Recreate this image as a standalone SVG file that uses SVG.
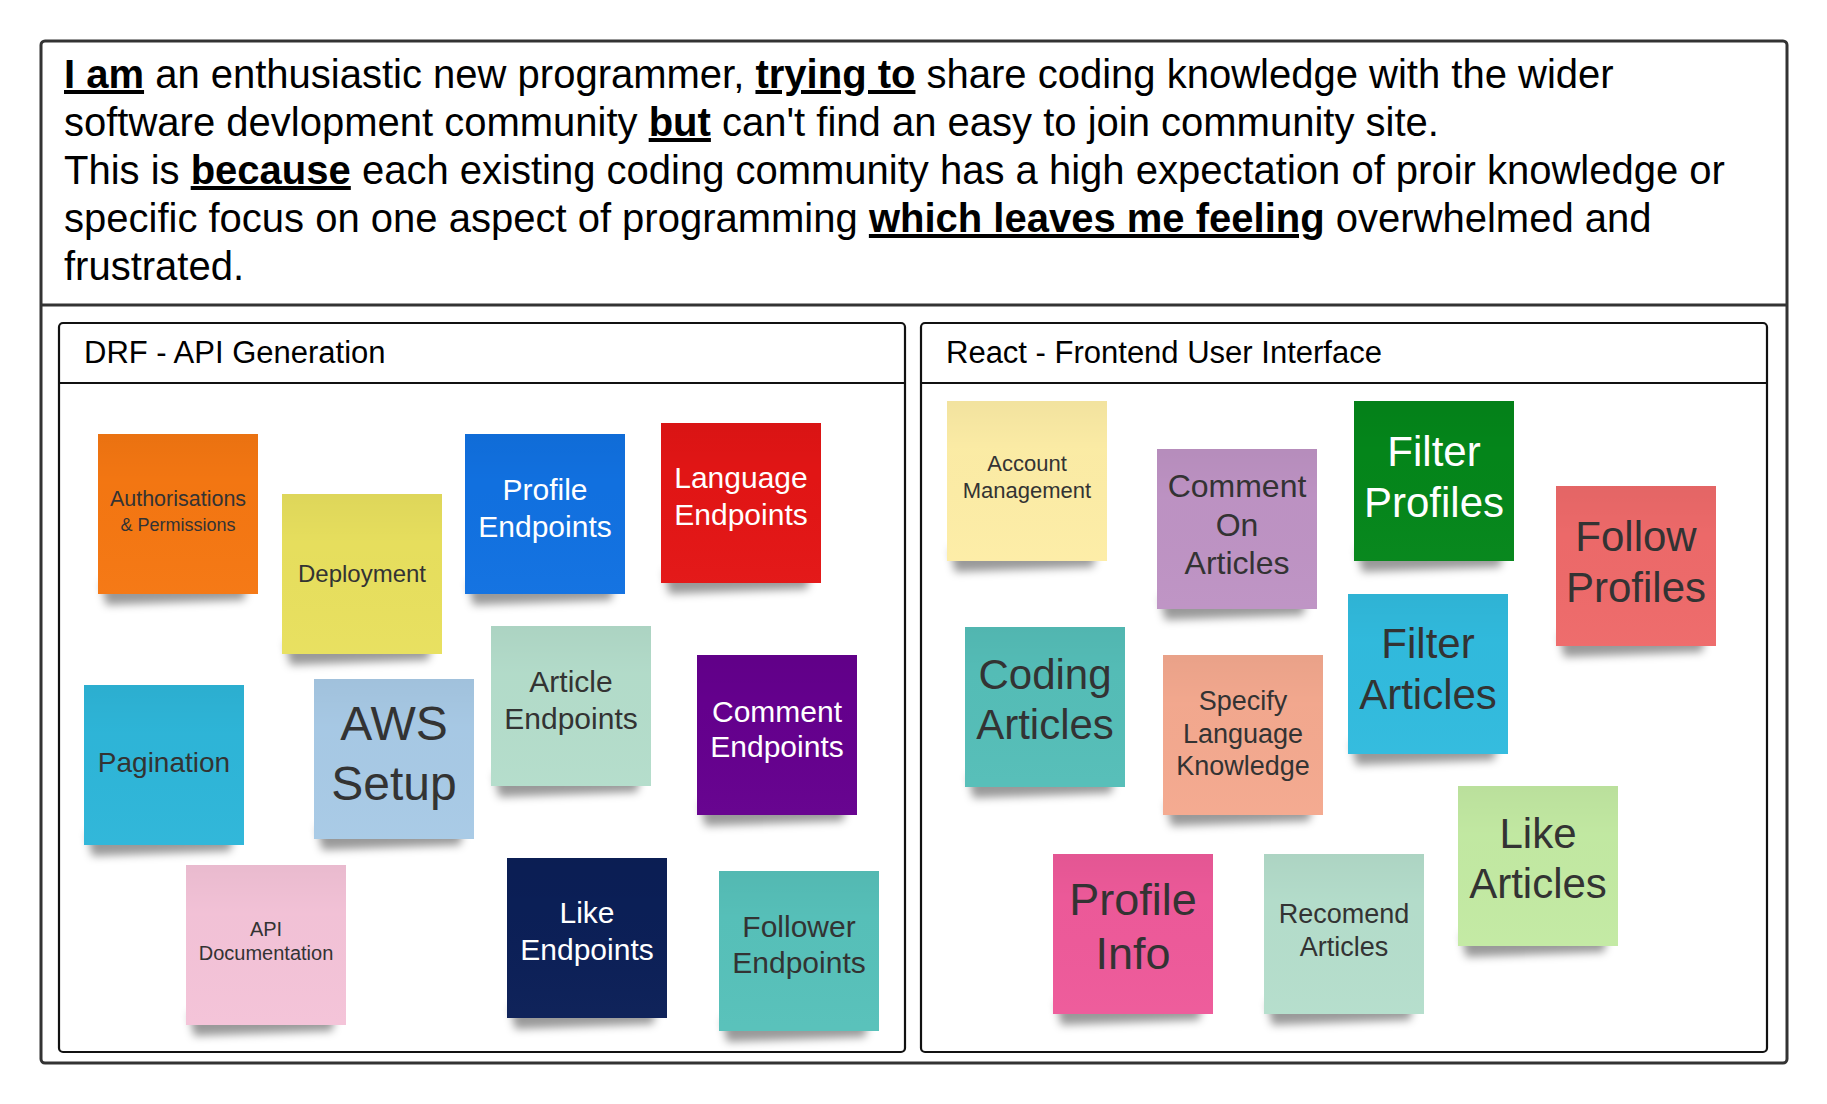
<svg xmlns="http://www.w3.org/2000/svg" xmlns:xlink="http://www.w3.org/1999/xlink" width="1827" height="1104" viewBox="0 0 1827 1104">
<style>
text{font-family:"Liberation Sans",Arial,sans-serif}
.hdr{font-size:40px;fill:#000}
.b{font-weight:bold;text-decoration:underline}
.ttl{font-size:31px;fill:#000}
.frame{fill:#fff;stroke:#333;stroke-width:3}
.panel{fill:#fff;stroke:#111;stroke-width:2.2}
.div{stroke:#111;stroke-width:2.2}
.nt{text-anchor:middle;fill:#333}
.w{fill:#fff}
</style>
<defs>
<filter id="blur" x="-20%" y="-100%" width="140%" height="300%"><feGaussianBlur stdDeviation="4"/></filter>
<linearGradient id="shade" x1="0" y1="0" x2="0" y2="1">
<stop offset="0" stop-color="#000" stop-opacity="0.045"/>
<stop offset="0.3" stop-color="#000" stop-opacity="0.01"/>
<stop offset="1" stop-color="#fff" stop-opacity="0.02"/>
</linearGradient>
<path id="sh" d="M3 148 L150 148 L146 166 L8 171 Z" fill="#000" fill-opacity="0.4" filter="url(#blur)"/>
<rect id="ov" width="160" height="160" fill="url(#shade)"/>
</defs>
<rect width="1827" height="1104" fill="#fff"/>

<g id="problem-statement">
<rect class="frame" x="41" y="41" width="1746" height="1022" rx="4"/>
<line x1="41" y1="305" x2="1787" y2="305" stroke="#333" stroke-width="3"/>
<text class="hdr" x="64" y="88"><tspan class="b">I am</tspan> an enthusiastic new programmer, <tspan class="b">trying to</tspan> share coding knowledge with the wider</text>
<text class="hdr" x="64" y="136">software devlopment community <tspan class="b">but</tspan> can't find an easy to join community site.</text>
<text class="hdr" x="64" y="184">This is <tspan class="b">because</tspan> each existing coding community has a high expectation of proir knowledge or</text>
<text class="hdr" x="64" y="232">specific focus on one aspect of programming <tspan class="b">which leaves me feeling</tspan> overwhelmed and</text>
<text class="hdr" x="64" y="280">frustrated.</text>
</g>

<g id="drf-panel">
<rect class="panel" x="59" y="323" width="846" height="729" rx="4"/>
<line class="div" x1="59" y1="383" x2="905" y2="383"/>
<text class="ttl" x="84" y="363">DRF - API Generation</text>
</g>

<g id="react-panel">
<rect class="panel" x="921" y="323" width="846" height="729" rx="4"/>
<line class="div" x1="921" y1="383" x2="1767" y2="383"/>
<text class="ttl" x="946" y="363">React - Frontend User Interface</text>
</g>

<g id="authorisations" transform="translate(98,434)">
<use xlink:href="#sh"/><rect width="160" height="160" fill="#F57712"/><use xlink:href="#ov"/>
<text class="nt" x="80" y="72" font-size="21.5">Authorisations</text>
<text class="nt" x="80" y="97" font-size="18">&amp; Permissions</text>
</g>
<g id="deployment" transform="translate(282,494)">
<use xlink:href="#sh"/><rect width="160" height="160" fill="#E8E05E"/><use xlink:href="#ov"/>
<text class="nt" x="80" y="88" font-size="24">Deployment</text>
</g>
<g id="profile-endpoints" transform="translate(465,434)">
<use xlink:href="#sh"/><rect width="160" height="160" fill="#1171E1"/><use xlink:href="#ov"/>
<text class="nt w" x="80" y="66" font-size="30">Profile</text>
<text class="nt w" x="80" y="103" font-size="30">Endpoints</text>
</g>
<g id="language-endpoints" transform="translate(661,423)">
<use xlink:href="#sh"/><rect width="160" height="160" fill="#E31515"/><use xlink:href="#ov"/>
<text class="nt w" x="80" y="65" font-size="30">Language</text>
<text class="nt w" x="80" y="102" font-size="30">Endpoints</text>
</g>
<g id="article-endpoints" transform="translate(491,626)">
<use xlink:href="#sh"/><rect width="160" height="160" fill="#B4DDCB"/><use xlink:href="#ov"/>
<text class="nt" x="80" y="66" font-size="30">Article</text>
<text class="nt" x="80" y="103" font-size="30">Endpoints</text>
</g>
<g id="comment-endpoints" transform="translate(697,655)">
<use xlink:href="#sh"/><rect width="160" height="160" fill="#65008E"/><use xlink:href="#ov"/>
<text class="nt w" x="80" y="67" font-size="30">Comment</text>
<text class="nt w" x="80" y="102" font-size="30">Endpoints</text>
</g>
<g id="pagination" transform="translate(84,685)">
<use xlink:href="#sh"/><rect width="160" height="160" fill="#2EB6D9"/><use xlink:href="#ov"/>
<text class="nt" x="80" y="87" font-size="28">Pagination</text>
</g>
<g id="aws-setup" transform="translate(314,679)">
<use xlink:href="#sh"/><rect width="160" height="160" fill="#A8CAE6"/><use xlink:href="#ov"/>
<text class="nt" x="80" y="61" font-size="48">AWS</text>
<text class="nt" x="80" y="121" font-size="48">Setup</text>
</g>
<g id="api-documentation" transform="translate(186,865)">
<use xlink:href="#sh"/><rect width="160" height="160" fill="#F4C3D8"/><use xlink:href="#ov"/>
<text class="nt" x="80" y="71" font-size="20">API</text>
<text class="nt" x="80" y="95" font-size="20">Documentation</text>
</g>
<g id="like-endpoints" transform="translate(507,858)">
<use xlink:href="#sh"/><rect width="160" height="160" fill="#0B1F57"/><use xlink:href="#ov"/>
<text class="nt w" x="80" y="65" font-size="30">Like</text>
<text class="nt w" x="80" y="102" font-size="30">Endpoints</text>
</g>
<g id="follower-endpoints" transform="translate(719,871)">
<use xlink:href="#sh"/><rect width="160" height="160" fill="#57C1BA"/><use xlink:href="#ov"/>
<text class="nt" x="80" y="66" font-size="30">Follower</text>
<text class="nt" x="80" y="102" font-size="30">Endpoints</text>
</g>

<g id="account-management" transform="translate(947,401)">
<use xlink:href="#sh"/><rect width="160" height="160" fill="#FDEDA6"/><use xlink:href="#ov"/>
<text class="nt" x="80" y="70" font-size="22">Account</text>
<text class="nt" x="80" y="97" font-size="22">Management</text>
</g>
<g id="comment-on-articles" transform="translate(1157,449)">
<use xlink:href="#sh"/><rect width="160" height="160" fill="#BE93C4"/><use xlink:href="#ov"/>
<text class="nt" x="80" y="48" font-size="32">Comment</text>
<text class="nt" x="80" y="87" font-size="32">On</text>
<text class="nt" x="80" y="125" font-size="32">Articles</text>
</g>
<g id="filter-profiles" transform="translate(1354,401)">
<use xlink:href="#sh"/><rect width="160" height="160" fill="#04861A"/><use xlink:href="#ov"/>
<text class="nt w" x="80" y="65" font-size="42">Filter</text>
<text class="nt w" x="80" y="116" font-size="42">Profiles</text>
</g>
<g id="follow-profiles" transform="translate(1556,486)">
<use xlink:href="#sh"/><rect width="160" height="160" fill="#EE6A6A"/><use xlink:href="#ov"/>
<text class="nt" x="80" y="65" font-size="42">Follow</text>
<text class="nt" x="80" y="116" font-size="42">Profiles</text>
</g>
<g id="coding-articles" transform="translate(965,627)">
<use xlink:href="#sh"/><rect width="160" height="160" fill="#55BEB8"/><use xlink:href="#ov"/>
<text class="nt" x="80" y="62" font-size="42">Coding</text>
<text class="nt" x="80" y="112" font-size="42">Articles</text>
</g>
<g id="specify-language-knowledge" transform="translate(1163,655)">
<use xlink:href="#sh"/><rect width="160" height="160" fill="#F4A98F"/><use xlink:href="#ov"/>
<text class="nt" x="80" y="55" font-size="27">Specify</text>
<text class="nt" x="80" y="88" font-size="27">Language</text>
<text class="nt" x="80" y="120" font-size="27">Knowledge</text>
</g>
<g id="filter-articles" transform="translate(1348,594)">
<use xlink:href="#sh"/><rect width="160" height="160" fill="#31BBDE"/><use xlink:href="#ov"/>
<text class="nt" x="80" y="64" font-size="42">Filter</text>
<text class="nt" x="80" y="115" font-size="42">Articles</text>
</g>
<g id="like-articles" transform="translate(1458,786)">
<use xlink:href="#sh"/><rect width="160" height="160" fill="#C3EAA3"/><use xlink:href="#ov"/>
<text class="nt" x="80" y="62" font-size="42">Like</text>
<text class="nt" x="80" y="112" font-size="42">Articles</text>
</g>
<g id="profile-info" transform="translate(1053,854)">
<use xlink:href="#sh"/><rect width="160" height="160" fill="#EE5A9A"/><use xlink:href="#ov"/>
<text class="nt" x="80" y="61" font-size="45">Profile</text>
<text class="nt" x="80" y="115" font-size="45">Info</text>
</g>
<g id="recomend-articles" transform="translate(1264,854)">
<use xlink:href="#sh"/><rect width="160" height="160" fill="#B5DECC"/><use xlink:href="#ov"/>
<text class="nt" x="80" y="69" font-size="27">Recomend</text>
<text class="nt" x="80" y="102" font-size="27">Articles</text>
</g>
</svg>
